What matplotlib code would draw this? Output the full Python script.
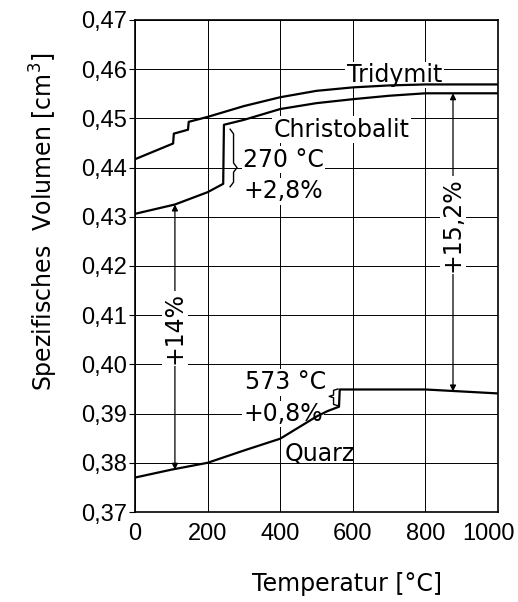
import matplotlib
matplotlib.use('Agg')
import matplotlib.pyplot as plt
from matplotlib.transforms import ScaledTranslation

# curves (temperature in degC, specific volume in cm3/g)
tridymit_t = [0, 105, 107, 146, 148, 200, 300, 400, 500, 600, 700, 800, 1000]
tridymit_v = [0.4417, 0.4449, 0.4469, 0.4477, 0.4493, 0.4503, 0.4525, 0.4543,
              0.4556, 0.4563, 0.4567, 0.4569, 0.4569]

christo_t = [0, 110, 200, 243, 245, 300, 400, 500, 600, 700, 800, 1000]
christo_v = [0.4306, 0.4325, 0.4350, 0.4367, 0.4487, 0.4497, 0.4519, 0.4531,
             0.4539, 0.4546, 0.4551, 0.4551]

quarz_t = [0, 100, 200, 300, 400, 500, 530, 562, 564, 800, 1000]
quarz_v = [0.3770, 0.3786, 0.3800, 0.3825, 0.3849, 0.3894, 0.3905, 0.3914,
           0.3949, 0.3949, 0.3941]

x_ticks = [0, 200, 400, 600, 800, 1000]
y_ticks = [0.37, 0.38, 0.39, 0.40, 0.41, 0.42, 0.43, 0.44, 0.45, 0.46, 0.47]
y_labels = ['0,37', '0,38', '0,39', '0,40', '0,41', '0,42', '0,43', '0,44',
            '0,45', '0,46', '0,47']

plt.rcParams['font.family'] = ['DejaVu Sans']
tickfont = ['Liberation Sans', 'DejaVu Sans']
FS = 17

fig = plt.figure(figsize=(5.18, 6.02), dpi=100)
ax = fig.add_axes([0.2606, 0.1495, 0.7008, 0.8173])

ax.set_xlim(0, 1000)
ax.set_ylim(0.37, 0.47)
ax.set_xticks(x_ticks)
ax.set_xticklabels([str(t) for t in x_ticks], fontsize=17, family=tickfont)
ax.set_yticks(y_ticks)
ax.set_yticklabels(y_labels, fontsize=17, family=tickfont)
ax.tick_params(axis='x', length=0, pad=8)
ax.tick_params(axis='y', length=4, width=0.8, direction='out', pad=2)
ax.grid(True, color='black', lw=0.7)
ax.set_axisbelow(True)
for s in ax.spines.values():
    s.set_linewidth(1.2)

# last x label pulled in so it stays inside the picture
last = ax.get_xticklabels()[-1]
last.set_transform(last.get_transform() + ScaledTranslation(-10 / 100, 0, fig.dpi_scale_trans))

ax.plot(tridymit_t, tridymit_v, color='black', lw=1.6, zorder=5)
ax.plot(christo_t, christo_v, color='black', lw=1.6, zorder=5)
ax.plot(quarz_t, quarz_v, color='black', lw=1.6, zorder=5)

white = dict(facecolor='white', edgecolor='none', pad=1.0)

# curve names
ax.text(715, 0.4574, 'Tridymit', fontsize=FS, ha='center', va='baseline', bbox=white, zorder=4)
ax.text(568, 0.4463, 'Christobalit', fontsize=FS, ha='center', va='baseline', bbox=white, zorder=4)
ax.text(413, 0.3803, 'Quarz', fontsize=FS, ha='left', va='baseline', zorder=4)

# transition notes
ax.text(298, 0.4402, '270 °C', fontsize=FS, ha='left', va='baseline', bbox=white, zorder=4)
ax.text(298, 0.4338, '+2,8%', fontsize=FS, ha='left', va='baseline', bbox=white, zorder=4)
ax.text(303, 0.3949, '573 °C', fontsize=FS, ha='left', va='baseline', bbox=white, zorder=4)
ax.text(298, 0.3885, '+0,8%', fontsize=FS, ha='left', va='baseline', bbox=white, zorder=4)


def brace(x0, x1, y0, y1, ym):
    # simple angular brace, tip at x1
    w = (x1 - x0) / 2
    e = (y1 - y0) * 0.08
    xs = [x0, x0 + w, x0 + w, x1, x0 + w, x0 + w, x0]
    ys = [y1, y1 - e, ym + e, ym, ym - e, y0 + e, y0]
    ax.plot(xs, ys, color='black', lw=1.0, zorder=5)


brace(262, 281, 0.4361, 0.4478, 0.4400)
brace(559, 535, 0.3916, 0.3950, 0.3935)

# percentage arrows
arrow = dict(arrowstyle='<|-|>', lw=0.9, color='black', mutation_scale=9,
             shrinkA=0, shrinkB=0)
ax.annotate('', xy=(110, 0.4325), xytext=(110, 0.3786), arrowprops=arrow, zorder=3)
ax.text(110, 0.4073, '+14%', fontsize=FS, rotation=90, ha='center', va='center',
        bbox=white, zorder=4)
ax.annotate('', xy=(876, 0.4551), xytext=(876, 0.3945), arrowprops=arrow, zorder=3)
ax.text(876, 0.4283, '+15,2%', fontsize=FS, rotation=90, ha='center', va='center',
        bbox=white, zorder=4)

ax.set_ylabel('Spezifisches  Volumen [cm$^3$]', fontsize=FS, va='center')
ax.yaxis.set_label_coords(-0.250, 0.589)
ax.set_xlabel('Temperatur [°C]', fontsize=FS, va='center')
ax.xaxis.set_label_coords(0.584, -0.146)

fig.savefig('out.png', dpi=100)
